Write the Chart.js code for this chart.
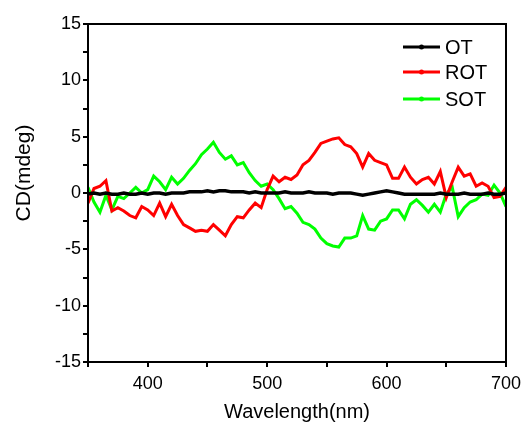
<!DOCTYPE html>
<html>
<head>
<meta charset="utf-8">
<script src="https://cdn.jsdelivr.net/npm/chart.js@4.4.1/dist/chart.umd.min.js"></script>
<style>
  html, body { margin: 0; padding: 0; background: #fff; }
  canvas { display: block; }
</style>
</head>
<body>
<canvas id="cdChart" width="523" height="427"></canvas>
<script>
// Spettri CD (mdeg)
const wavelength = [350, 355, 360, 365, 370, 375, 380, 385, 390, 395,
  400, 405, 410, 415, 420, 425, 430, 435, 440, 445,
  450, 455, 460, 465, 470, 475, 480, 485, 490, 495,
  500, 505, 510, 515, 520, 525, 530, 535, 540, 545,
  550, 555, 560, 565, 570, 575, 580, 585, 590, 595,
  600, 605, 610, 615, 620, 625, 630, 635, 640, 645,
  650, 655, 660, 665, 670, 675, 680, 685, 690, 695, 700];

const otValues = [-0.1, 0.0, -0.1, 0.0, -0.1, -0.1, 0.0, -0.1, -0.1, 0.0,
  -0.1, 0.0, 0.0, -0.1, 0.0, 0.0, 0.0, 0.1, 0.1, 0.1,
  0.2, 0.1, 0.2, 0.2, 0.1, 0.1, 0.1, 0.0, 0.1, 0.0,
  0.0, 0.0, 0.0, 0.1, 0.0, 0.0, 0.0, 0.1, 0.0, 0.0,
  0.0, -0.1, 0.0, 0.0, 0.0, -0.1, -0.2, -0.1, 0.0, 0.1,
  0.2, 0.1, 0.0, -0.1, -0.1, -0.1, -0.1, -0.1, -0.1, 0.0,
  -0.1, -0.1, -0.1, 0.0, -0.1, -0.1, -0.1, 0.0, -0.1, -0.1, 0.0];

const rotValues = [-0.9, 0.4, 0.6, 1.1, -1.6, -1.3, -1.6, -2.0, -2.2, -1.2,
  -1.5, -2.0, -0.9, -2.1, -1.0, -2.0, -2.8, -3.1, -3.4, -3.3,
  -3.4, -2.8, -3.3, -3.8, -2.8, -2.1, -2.2, -1.5, -0.9, -1.3,
  0.3, 1.5, 1.0, 1.4, 1.2, 1.6, 2.5, 2.9, 3.6, 4.4,
  4.6, 4.8, 4.9, 4.3, 4.1, 3.5, 2.3, 3.5, 2.9, 2.7,
  2.5, 1.3, 1.3, 2.3, 1.4, 0.8, 1.2, 1.4, 0.8, 1.9,
  -0.4, 1.0, 2.3, 1.5, 1.7, 0.6, 0.9, 0.6, -0.4, -0.3, 0.5];

const sotValues = [0.5, -0.8, -1.7, -0.2, -1.5, -0.3, -0.5, 0.0, 0.5, 0.0,
  0.3, 1.5, 1.0, 0.3, 1.4, 0.8, 1.3, 2.0, 2.6, 3.4,
  3.9, 4.5, 3.6, 3.0, 3.3, 2.5, 2.7, 1.8, 1.1, 0.6,
  0.8, 0.3, -0.5, -1.4, -1.2, -1.8, -2.6, -2.8, -3.2, -4.0,
  -4.5, -4.7, -4.8, -4.0, -4.0, -3.8, -2.0, -3.2, -3.3, -2.5,
  -2.3, -1.5, -1.5, -2.3, -1.0, -0.6, -1.1, -1.7, -1.0, -1.7,
  -0.1, 0.5, -2.1, -1.3, -0.8, -0.6, -0.1, -0.2, 0.7, 0.0, -1.2];

const xTickLabels = [400, 500, 600, 700];
const yTickLabels = [-15, -10, -5, 0, 5, 10, 15];

function punti(valori) {
    return wavelength.map((w, i) => ({ x: w, y: valori[i] }));
}

// cornice, titolo asse y e legenda dentro il grafico
const extraPlugin = {
    id: 'extra',
    afterDraw(chart) {
        const ctx = chart.ctx;
        const a = chart.chartArea;
        ctx.save();
        ctx.strokeStyle = '#000';
        ctx.lineWidth = 2;
        ctx.strokeRect(a.left, a.top, a.right - a.left, a.bottom - a.top);

        ctx.fillStyle = '#000';
        ctx.font = '21px "Liberation Sans", Arial, sans-serif';
        ctx.textAlign = 'center';
        ctx.textBaseline = 'middle';
        ctx.translate(24, 173);
        ctx.rotate(-Math.PI / 2);
        ctx.fillText('CD(mdeg)', 0, 0);
        ctx.restore();

        ctx.save();
        ctx.font = '20px "Liberation Sans", Arial, sans-serif';
        ctx.textBaseline = 'middle';
        ctx.textAlign = 'left';
        const rows = [23, 48, 75];
        chart.data.datasets.forEach((ds, i) => {
            const y = a.top + rows[i];
            const x0 = a.right - 103;
            const x1 = a.right - 66;
            ctx.strokeStyle = ds.borderColor;
            ctx.lineWidth = 3;
            ctx.beginPath();
            ctx.moveTo(x0, y);
            ctx.lineTo(x1, y);
            ctx.stroke();
            ctx.fillStyle = ds.borderColor;
            ctx.beginPath();
            ctx.arc((x0 + x1) / 2, y, 2.5, 0, Math.PI * 2);
            ctx.fill();
            ctx.fillStyle = '#000';
            ctx.fillText(ds.label, a.right - 61, y + 1);
        });
        ctx.restore();
    }
};

const ctx = document.getElementById('cdChart');
const cdChart = new Chart(ctx, {
    type: 'line',
    data: {
        datasets: [
            { label: 'OT', data: punti(otValues), borderColor: '#000000', borderWidth: 3.5 },
            { label: 'ROT', data: punti(rotValues), borderColor: '#ff0000', borderWidth: 3 },
            { label: 'SOT', data: punti(sotValues), borderColor: '#00ff00', borderWidth: 3 }
        ]
    },
    options: {
        responsive: false,
        animation: false,
        devicePixelRatio: 1,
        layout: { padding: { left: 0, right: 17, top: 24, bottom: 0 } },
        elements: {
            point: { radius: 0, hoverRadius: 0 },
            line: { tension: 0, fill: false }
        },
        plugins: {
            legend: { display: false },
            tooltip: { enabled: false }
        },
        scales: {
            x: {
                type: 'linear',
                min: 350,
                max: 700,
                afterFit: s => { s.height = 65; s.paddingLeft = 0; s.paddingRight = 0; },
                border: { color: '#000', width: 2 },
                grid: { drawOnChartArea: false, drawTicks: true, tickLength: 5, tickColor: '#000', lineWidth: 2 },
                ticks: {
                    stepSize: 50,
                    padding: 6,
                    color: '#000',
                    font: { family: '"Liberation Sans", Arial, sans-serif', size: 18 },
                    maxRotation: 0,
                    autoSkip: false,
                    callback: v => xTickLabels.includes(v) ? String(v) : ''
                },
                title: {
                    display: true,
                    text: 'Wavelength(nm)',
                    color: '#000',
                    font: { family: '"Liberation Sans", Arial, sans-serif', size: 20 },
                    padding: { top: 0, bottom: 3 }
                }
            },
            y: {
                min: -15,
                max: 15,
                afterFit: s => { s.width = 88; s.paddingTop = 0; s.paddingBottom = 0; },
                border: { color: '#000', width: 2 },
                grid: { drawOnChartArea: false, drawTicks: true, tickLength: 5, tickColor: '#000', lineWidth: 2 },
                ticks: {
                    stepSize: 2.5,
                    padding: 2,
                    color: '#000',
                    font: { family: '"Liberation Sans", Arial, sans-serif', size: 18 },
                    autoSkip: false,
                    callback: v => yTickLabels.includes(v) ? String(v) : ''
                }
            }
        }
    },
    plugins: [extraPlugin]
});
</script>
</body>
</html>
